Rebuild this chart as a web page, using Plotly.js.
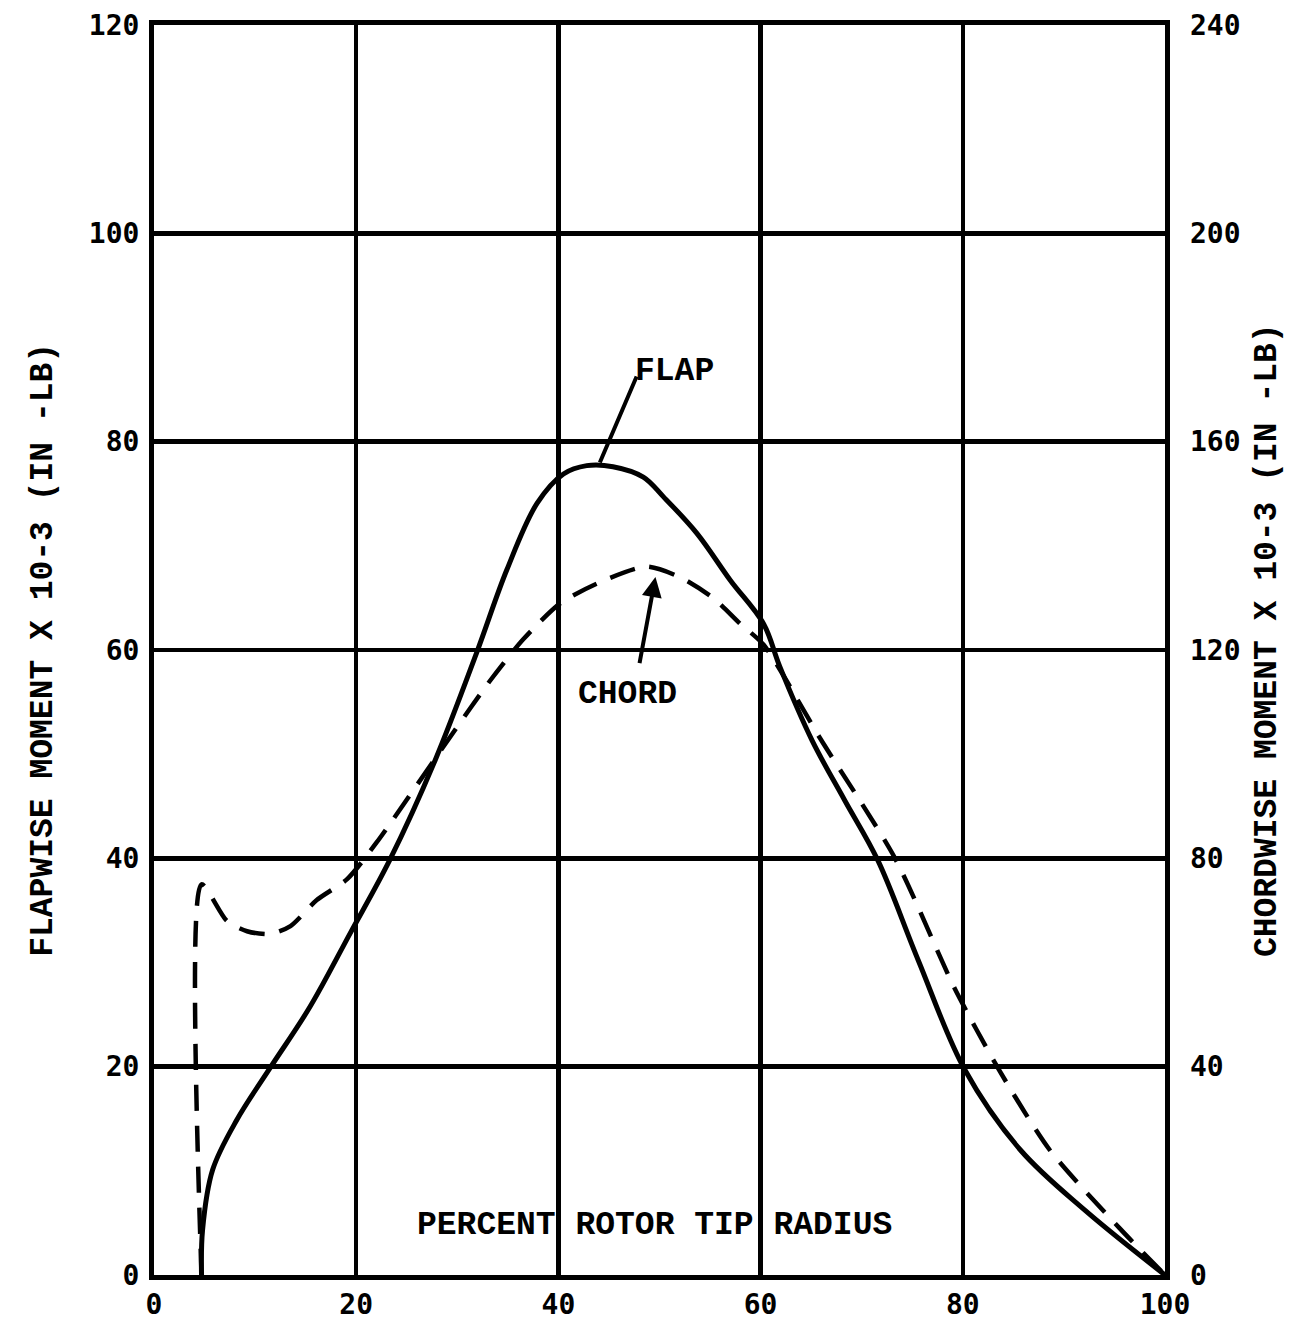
<!DOCTYPE html>
<html>
<head>
<meta charset="utf-8">
<script src="https://cdn.plot.ly/plotly-3.0.1.min.js"></script>
<style>html,body{margin:0;padding:0;background:#fff;}#chart{width:1292px;height:1325px;}</style>
</head>
<body>
<div id="chart"></div>
<script>
// Percent rotor tip radius
const flapX = [4.7, 4.8, 5.8, 8.2, 11.5, 15.4, 19.4, 23.3, 27.8, 31.9, 34.9, 37.9, 40.5, 42.8, 45.4, 48.4, 50.4, 53.7, 57.0, 60.3, 61.9, 65.1, 68.3, 71.6, 75.6, 80.2, 85.7, 92.1, 100];
// Flapwise moment x 10^-3 (in-lb), left axis
const flapY = [0, 4.3, 10.1, 14.9, 19.9, 25.7, 32.8, 39.8, 49.4, 59.7, 67.7, 74.1, 76.9, 77.7, 77.6, 76.6, 74.7, 71.2, 66.7, 62.5, 58.4, 51.3, 45.6, 39.8, 30.2, 19.7, 12.0, 6.2, 0];
const chordX = [4.7, 4.7, 7.2, 9.2, 11.5, 13.5, 16.1, 19.1, 22.0, 29.9, 33.2, 36.5, 40.2, 44.1, 48.7, 52.0, 55.3, 58.0, 60.3, 65.9, 73.3, 79.2, 83.7, 88.6, 95.5, 100];
// Chordwise moment x 10^-3 (in-lb), right axis
const chordY = [0, 75, 68, 66, 65.5, 67, 72, 76, 83, 105, 114, 122, 129, 133, 136, 134, 130, 125, 121, 103, 80, 55, 39, 24, 9, 0];
const xTicks = [0, 20, 40, 60, 80, 100];
const yTicksLeft = [0, 20, 40, 60, 80, 100, 120];
const yTicksRight = [0, 40, 80, 120, 160, 200, 240];
const leftTitle = "FLAPWISE MOMENT X 10-3 (IN -LB)";
const rightTitle = "CHORDWISE MOMENT X 10-3 (IN -LB)";
const xTitle = "PERCENT ROTOR TIP RADIUS";

const numFont = {family: "DejaVu Sans Mono", size: 28, color: "#000", weight: "bold"};
const txtFont = {family: "Liberation Mono", size: 33, color: "#000", weight: "bold"};

const traces = [
  {x: flapX, y: flapY, mode: "lines", line: {color: "#000", width: 5, shape: "spline", smoothing: 1}, yaxis: "y", showlegend: false, hoverinfo: "skip"},
  {x: chordX, y: chordY, mode: "lines", line: {color: "#000", width: 4.5, dash: "26px,15px", shape: "spline", smoothing: 0.7}, yaxis: "y2", showlegend: false, hoverinfo: "skip"}
];

const layout = {
  width: 1292, height: 1325,
  margin: {l: 154, r: 127, t: 25, b: 50},
  paper_bgcolor: "#fff", plot_bgcolor: "#fff",
  showlegend: false,
  xaxis: {range: [0, 100], tickvals: xTicks, ticktext: xTicks.map(String), showgrid: true, gridcolor: "#000", gridwidth: 4.5,
          zeroline: false, showline: true, linecolor: "#000", linewidth: 5, mirror: true, ticks: "", tickfont: numFont, fixedrange: true},
  yaxis: {range: [0, 120], tickvals: yTicksLeft, ticktext: yTicksLeft.map(String), showgrid: true, gridcolor: "#000", gridwidth: 4.5,
          zeroline: false, showline: true, linecolor: "#000", linewidth: 5, mirror: true, ticks: "", tickfont: numFont, ticklabelstandoff: 4, fixedrange: true},
  yaxis2: {range: [0, 240], tickvals: yTicksRight, ticktext: yTicksRight.map(String), overlaying: "y", side: "right", showgrid: false,
           zeroline: false, showline: false, ticks: "", tickfont: numFont, ticklabelstandoff: 24, fixedrange: true},
  annotations: [
    {xref: "paper", yref: "paper", x: -0.11, y: 0.5, xanchor: "center", yanchor: "middle", text: leftTitle, textangle: -90, showarrow: false, font: txtFont},
    {xref: "paper", yref: "paper", x: 1.101, y: 0.508, xanchor: "center", yanchor: "middle", text: rightTitle, textangle: -90, showarrow: false, font: txtFont},
    {xref: "x", yref: "y", x: 49.5, y: 4.8, text: xTitle, showarrow: false, font: txtFont},
    {xref: "x", yref: "y", x: 51.5, y: 86.7, text: "FLAP", showarrow: false, font: txtFont},
    {xref: "x", yref: "y", x: 46.8, y: 55.7, text: "CHORD", showarrow: false, font: txtFont},
    {xref: "x", yref: "y", ax: 47.8, ay: 86.4, axref: "x", ayref: "y", x: 44.1, y: 78.0, text: "", showarrow: true, arrowhead: 0, arrowwidth: 4, arrowcolor: "#000"},
    {xref: "x", yref: "y", ax: 48.0, ay: 58.6, axref: "x", ayref: "y", x: 49.6, y: 67.0, text: "", showarrow: true, arrowhead: 2, arrowsize: 1, arrowwidth: 4, arrowcolor: "#000"}
  ]
};

Plotly.newPlot("chart", traces, layout, {displayModeBar: false, staticPlot: true});
</script>
</body>
</html>
